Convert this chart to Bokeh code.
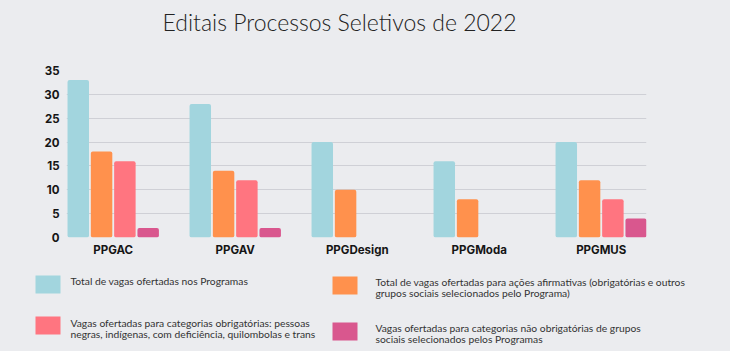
from bokeh.plotting import figure
from bokeh.models import Range1d, FixedTicker, ColumnDataSource
from bokeh.transform import dodge
from bokeh.layouts import column
from bokeh.embed import file_html
from bokeh.resources import INLINE
from bokeh.core.properties import value

# ---- data ----
title_text = "Editais Processos Seletivos de 2022"
programs = ["PPGAC", "PPGAV", "PPGDesign", "PPGModa", "PPGMUS"]
total_vagas = [33, 28, 20, 16, 20]
acoes_afirmativas = [18, 14, 10, 8, 12]
obrigatorias = [16, 12, 0, 0, 8]
nao_obrigatorias = [2, 2, 0, 0, 4]
y_ticks = [0, 5, 10, 15, 20, 25, 30, 35]

series_keys = ["total", "afirm", "obrig", "naoobrig"]
series_colors = ["#A2D5DE", "#FF914D", "#FF7580", "#D9578E"]
legend_lines = [
    ["Total de vagas ofertadas nos Programas"],
    ["Total de vagas ofertadas para ações afirmativas (obrigatórias e outros",
     "grupos sociais  selecionados pelo Programa)"],
    ["Vagas ofertadas para categorias obrigatórias: pessoas",
     "negras, indígenas, com deficiência, quilombolas e trans"],
    ["Vagas ofertadas para categorias não obrigatórias de grupos",
     "sociais selecionados pelos Programas"],
]

BG = "#EBECEF"
W = 730
TITLE_H = 45
CHART_BOTTOM = 265
CHART_H = CHART_BOTTOM - TITLE_H
LEG_H = 351 - CHART_BOTTOM


def strip(height, y0):
    f = figure(width=W, height=height, output_backend="svg",
               toolbar_location=None, x_range=Range1d(0, W),
               y_range=Range1d(y0 + height, y0), min_border=0,
               frame_align=False)
    f.axis.visible = False
    f.grid.visible = False
    f.outline_line_color = None
    f.background_fill_color = BG
    f.border_fill_color = BG
    return f


# ---- title strip ----
t = strip(TITLE_H, 0)
t.text(x=[339], y=[21], text=[title_text], text_font=value("Lato Light"),
       text_font_size="23px", text_color="#222222", text_align="center",
       text_baseline="middle")

# ---- chart ----
source = ColumnDataSource(dict(
    idx=list(range(len(programs))),
    total=total_vagas,
    afirm=acoes_afirmativas,
    obrig=obrigatorias,
    naoobrig=nao_obrigatorias,
))

p = figure(width=W, height=CHART_H, output_backend="svg", toolbar_location=None,
           x_range=Range1d(-0.383, 4.371), y_range=Range1d(0, 35),
           min_border_left=66, min_border_right=84, min_border_top=70 - TITLE_H,
           min_border_bottom=28, frame_align=False)
p.background_fill_color = BG
p.border_fill_color = BG
p.outline_line_color = None

offsets = [-0.2865, -0.0955, 0.0955, 0.2865]
for key, col, off in zip(series_keys, series_colors, offsets):
    p.vbar(x=dodge("idx", off, range=p.x_range), top=key, width=0.176,
           bottom=0, source=source, fill_color=col, line_color=None,
           border_radius=2)

p.xgrid.grid_line_color = None
p.ygrid.grid_line_color = "#CFD0D6"
p.ygrid.grid_line_width = 1.2
p.yaxis.ticker = FixedTicker(ticks=y_ticks)
p.xaxis.ticker = FixedTicker(ticks=list(range(len(programs))))
p.xaxis.major_label_overrides = {i: n for i, n in enumerate(programs)}
for ax in (p.xaxis, p.yaxis):
    ax.axis_line_color = None
    ax.major_tick_line_color = None
    ax.minor_tick_line_color = None
    ax.major_tick_out = 0
    ax.major_tick_in = 0
    ax.minor_tick_out = 0
    ax.minor_tick_in = 0
    ax.major_label_text_font = "Inter"
    ax.major_label_text_font_style = "bold"
    ax.major_label_text_font_size = "11.5px"
    ax.major_label_text_color = "#151515"
p.yaxis.major_label_standoff = 7
p.xaxis.major_label_standoff = 5

# ---- legend strip ----
leg = strip(LEG_H, CHART_BOTTOM)
sq_left = [35, 332, 35, 332]
sq_top = [275, 276, 316, 322]
txt_x = [70, 375, 70, 375]
txt_y0 = [280, 281, 322, 327]
for i in range(4):
    leg.quad(left=sq_left[i], right=sq_left[i] + 25, top=sq_top[i],
             bottom=sq_top[i] + 18, fill_color=series_colors[i], line_color=None)
    ys = [txt_y0[i] + 11.5 * k for k in range(len(legend_lines[i]))]
    leg.text(x=[txt_x[i]] * len(ys), y=ys, text=legend_lines[i],
             text_font=value("Lato"), text_font_size="10.3px",
             text_color="#333333", text_baseline="middle", text_align="left")

layout = column(t, p, leg, spacing=0, styles={"background-color": BG})
open("out.html", "w").write(file_html(layout, INLINE))
